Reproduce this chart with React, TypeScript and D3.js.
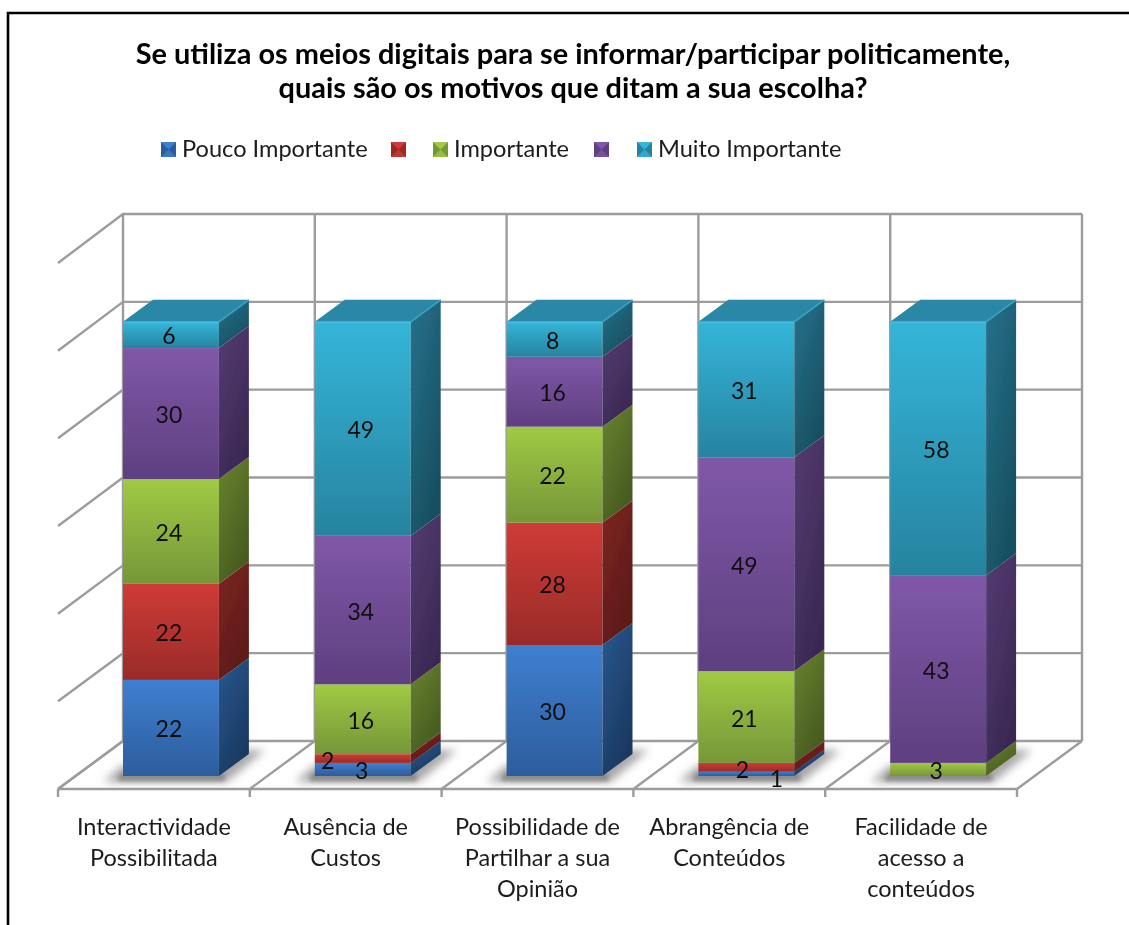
import React from "react";
import * as d3 from "d3";

const categories = [
  ["Interactividade", "Possibilitada"],
  ["Ausência de", "Custos"],
  ["Possibilidade de", "Partilhar a sua", "Opinião"],
  ["Abrangência de", "Conteúdos"],
  ["Facilidade de", "acesso a", "conteúdos"],
];
const seriesNames = ["Pouco Importante", "", "Importante", "", "Muito Importante"];
const poucoImportante = [22, 3, 30, 1, 0];
const semNome1 = [22, 2, 28, 2, 0];
const importante = [24, 16, 22, 21, 3];
const semNome2 = [30, 34, 16, 49, 43];
const muitoImportante = [6, 49, 8, 31, 58];
const seriesValues = [poucoImportante, semNome1, importante, semNome2, muitoImportante];
const yTicks = [0, 20, 40, 60, 80, 100, 120];
const titleLines = [
  "Se utiliza os meios digitais para se informar/participar politicamente,",
  "quais são os motivos que ditam a sua escolha?",
];

const palette = [
  { f1: "#3f7fd0", f2: "#2c5d9c", s1: "#28598f", s2: "#1a3860" },
  { f1: "#cf3b37", f2: "#992b28", s1: "#7e2522", s2: "#5c1a18" },
  { f1: "#a0ca44", f2: "#769638", s1: "#68842f", s2: "#475a20" },
  { f1: "#8058a8", f2: "#5e3f80", s1: "#553c74", s2: "#3a2852" },
  { f1: "#34b5d9", f2: "#27839f", s1: "#26728c", s2: "#174f60" },
];

const labelOffsets: Record<string, [number, number]> = {
  "1-1": [-33, 1],
  "0-1": [1, 0],
  "1-3": [-2, 1],
  "0-3": [32, 4],
  "2-4": [0, 0],
};

const FONT = "Lato, 'Open Sans', sans-serif";
const DEPTH_X = 65;
const BAR_DX = 30;
const BAR_DY = 22;

export default function App() {
  const x = d3.scaleBand<number>().domain(d3.range(categories.length)).range([58, 1017]);
  const band = x.bandwidth();
  const barW = band / 2;
  const yFront = d3.scaleLinear().domain([0, 120]).range([789, 263]);
  const yBack = d3.scaleLinear().domain([0, 120]).range([741, 214]);
  const yBar = d3.scaleLinear().domain([0, 120]).range([776, 252]);

  const rows = categories.map((_, i) => {
    const r: Record<string, number> = {};
    seriesValues.forEach((s, k) => (r[String(k)] = s[i]));
    return r;
  });
  const stacked = d3.stack<Record<string, number>>().keys(seriesValues.map((_, k) => String(k)))(rows);

  const gridColor = "#9c9c9c";
  const ticks = d3.range(categories.length + 1).map((i) => 58 + i * band);
  const barX = (i: number) => (x(i) as number) + DEPTH_X;

  const poly = (pts: number[][]) => pts.map((p) => p.join(",")).join(" ");

  return (
    <svg
      width={1129}
      height={925}
      style={{ position: "absolute", left: 0, top: 0, background: "#fff" }}
      fontFamily={FONT}
    >
      <defs>
        <filter id="soft" x="-2%" y="-2%" width="104%" height="104%">
          <feGaussianBlur stdDeviation="0.5" />
        </filter>
        <filter id="shadowBlur" x="-40%" y="-80%" width="180%" height="260%">
          <feGaussianBlur stdDeviation="4" />
        </filter>
        <filter id="shadowTight" x="-40%" y="-150%" width="180%" height="400%">
          <feGaussianBlur stdDeviation="2" />
        </filter>
        {palette.map((c, k) => (
          <React.Fragment key={k}>
            <linearGradient id={`front${k}`} x1="0" y1="0" x2="0" y2="1">
              <stop offset="0" stopColor={c.f1} />
              <stop offset="1" stopColor={c.f2} />
            </linearGradient>
            <linearGradient id={`side${k}`} x1="0" y1="0" x2="0.6" y2="1">
              <stop offset="0" stopColor={c.s1} />
              <stop offset="1" stopColor={c.s2} />
            </linearGradient>
          </React.Fragment>
        ))}
      </defs>

      <g filter="url(#soft)">
        <path d="M8,925 V13 H1129" fill="none" stroke="#000" strokeWidth={2.6} />

        <g stroke={gridColor} strokeWidth={2.4} fill="none">
          {yTicks.map((t) => (
            <polyline
              key={t}
              points={poly([[58, yFront(t)], [58 + DEPTH_X, yBack(t)], [1082, yBack(t)]])}
            />
          ))}
          {ticks.map((tx, i) => (
            <line key={i} x1={tx + DEPTH_X} x2={tx + DEPTH_X} y1={yBack(120)} y2={yBack(0)} />
          ))}
          {ticks.map((tx, i) => (
            <line key={i} x1={tx} y1={yFront(0)} x2={tx + DEPTH_X} y2={yBack(0)} />
          ))}
          <line x1={58} x2={1017} y1={yFront(0)} y2={yFront(0)} strokeWidth={2.6} />
          {ticks.map((tx, i) => (
            <line key={i} x1={tx} x2={tx} y1={yFront(0)} y2={yFront(0) + 8} />
          ))}
        </g>

        {categories.map((_, i) => {
          const x0 = barX(i);
          const x1 = x0 + barW;
          return (
            <g key={i}>
              <polygon
                points={poly([[x0 - 20, 782], [x1 + 8, 782], [x1 + 46, 750], [x1 + 4, 750], [x1, 765], [x0, 765]])}
                fill="#a9a9a9"
                filter="url(#shadowBlur)"
              />
              <polygon
                points={poly([[x0 - 6, 781], [x1 + 6, 781], [x1 + 6, 773], [x0 - 2, 773]])}
                fill="#8a8a8a"
                filter="url(#shadowTight)"
              />
            </g>
          );
        })}

        {categories.map((_, i) => {
          const x0 = barX(i);
          const x1 = x0 + barW;
          const topV = stacked[stacked.length - 1][i][1];
          return (
            <g key={i}>
              {stacked.map((s, k) => {
                const [a, b] = s[i];
                if (b - a <= 0) return null;
                const yb = yBar(a);
                const yt = yBar(b);
                return (
                  <g key={k}>
                    <rect x={x0} y={yt} width={barW} height={yb - yt} fill={`url(#front${k})`} />
                    <polygon
                      points={poly([[x1, yt], [x1 + BAR_DX, yt - BAR_DY], [x1 + BAR_DX, yb - BAR_DY], [x1, yb]])}
                      fill={`url(#side${k})`}
                    />
                  </g>
                );
              })}
              <polygon
                points={poly([
                  [x0, yBar(topV)],
                  [x0 + BAR_DX, yBar(topV) - BAR_DY],
                  [x1 + BAR_DX, yBar(topV) - BAR_DY],
                  [x1, yBar(topV)],
                ])}
                fill="#2a88a6"
              />
              <line
                x1={x1}
                y1={yBar(topV)}
                x2={x1 + BAR_DX}
                y2={yBar(topV) - BAR_DY}
                stroke="#38a5c4"
                strokeWidth={1.5}
              />
              <line x1={x0} x2={x1} y1={yBar(topV) + 1} y2={yBar(topV) + 1} stroke="#3ebde0" strokeWidth={1.5} />
            </g>
          );
        })}

        <g fontSize={23} fill="#111" textAnchor="middle">
          {categories.map((_, i) =>
            stacked.map((s, k) => {
              const [a, b] = s[i];
              if (b - a <= 0) return null;
              const off = labelOffsets[`${k}-${i}`] ?? [0, 0];
              return (
                <text
                  key={`${k}-${i}`}
                  x={barX(i) + barW / 2 - 2 + off[0]}
                  y={(yBar(a) + yBar(b)) / 2 + 9.5 + off[1]}
                >
                  {b - a}
                </text>
              );
            })
          )}
        </g>

        <g fontSize={23.5} fill="#1c1c1c" textAnchor="middle">
          {categories.map((lines, i) => (
            <text key={i} x={(x(i) as number) + band / 2} y={835}>
              {lines.map((l, j) => (
                <tspan key={j} x={(x(i) as number) + band / 2} y={835 + j * 31}>
                  {l}
                </tspan>
              ))}
            </text>
          ))}
        </g>

        <g fontSize={28.9} fontWeight={700} fill="#000" textAnchor="middle">
          {titleLines.map((l, j) => (
            <text key={j} x={573} y={64 + j * 34}>
              {l}
            </text>
          ))}
        </g>

        {seriesNames.map((name, k) => {
          const sx = [161, 391, 433, 594, 637][k];
          const sy = 142;
          const sz = 15;
          const c = palette[k];
          return (
            <g key={k}>
              <rect x={sx} y={sy} width={sz} height={sz} fill={c.f2} />
              <polygon points={poly([[sx, sy], [sx + sz, sy], [sx + sz / 2, sy + sz / 2]])} fill={c.f1} />
              <polygon
                points={poly([[sx, sy + sz], [sx + sz, sy + sz], [sx + sz / 2, sy + sz / 2]])}
                fill={c.f1}
                fillOpacity={0.75}
              />
              {name && (
                <text x={sx + 21} y={157} fontSize={23.6} fill="#1c1c1c">
                  {name}
                </text>
              )}
            </g>
          );
        })}
      </g>
    </svg>
  );
}
